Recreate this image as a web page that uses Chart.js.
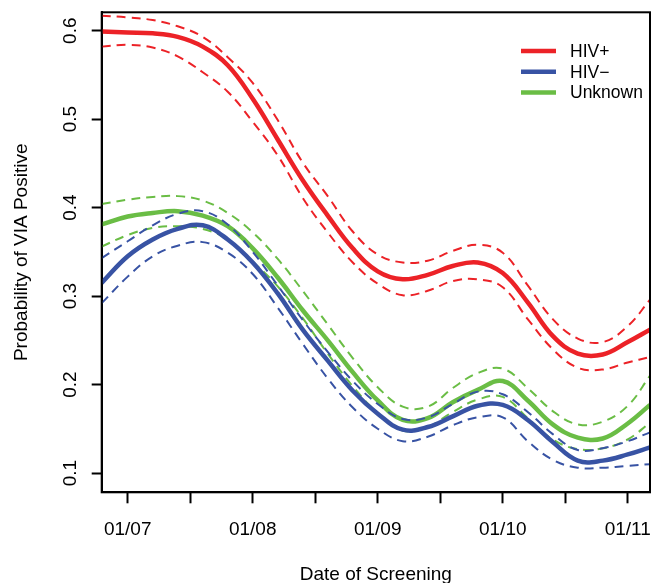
<!DOCTYPE html>
<html>
<head>
<meta charset="utf-8">
<script src="https://cdn.jsdelivr.net/npm/chart.js@4.4.1/dist/chart.umd.min.js"></script>
<style>
  html, body { margin: 0; padding: 0; background: #fff; }
  #wrap { width: 658px; height: 583px; }
</style>
</head>
<body>
<div id="wrap"><canvas id="viaChart" width="658" height="583"></canvas></div>
<script>
// screening date as decimal year
const dates = [2006.792, 2007.0, 2007.2, 2007.4, 2007.6, 2007.8, 2008.0, 2008.2, 2008.4, 2008.6, 2008.8,
               2009.0, 2009.2, 2009.4, 2009.6, 2009.8, 2010.0, 2010.2, 2010.4, 2010.6, 2010.8, 2011.0, 2011.178];

const hivPos   = [0.599, 0.598, 0.597, 0.593, 0.582, 0.561, 0.523, 0.477, 0.431, 0.391, 0.354, 0.328,
                  0.319, 0.324, 0.334, 0.338, 0.326, 0.293, 0.255, 0.235, 0.234, 0.248, 0.262];
const hivPosHi = [0.617, 0.615, 0.612, 0.605, 0.593, 0.570, 0.541, 0.499, 0.451, 0.413, 0.373, 0.347,
                  0.338, 0.340, 0.351, 0.358, 0.349, 0.312, 0.274, 0.252, 0.248, 0.266, 0.296];
const hivPosLo = [0.582, 0.584, 0.581, 0.571, 0.553, 0.531, 0.497, 0.459, 0.411, 0.372, 0.338, 0.314,
                  0.301, 0.306, 0.317, 0.319, 0.310, 0.274, 0.240, 0.219, 0.217, 0.225, 0.231];

const hivNeg   = [0.315, 0.345, 0.364, 0.376, 0.380, 0.364, 0.338, 0.303, 0.262, 0.227, 0.193, 0.167,
                  0.149, 0.152, 0.164, 0.176, 0.177, 0.160, 0.135, 0.114, 0.114, 0.121, 0.129];
const hivNegHi = [0.343, 0.362, 0.380, 0.393, 0.396, 0.381, 0.350, 0.312, 0.273, 0.237, 0.204, 0.178,
                  0.161, 0.163, 0.178, 0.192, 0.189, 0.169, 0.144, 0.126, 0.128, 0.136, 0.146];
const hivNegLo = [0.292, 0.322, 0.345, 0.357, 0.361, 0.349, 0.325, 0.287, 0.246, 0.207, 0.174, 0.150,
                  0.136, 0.141, 0.154, 0.163, 0.163, 0.136, 0.115, 0.106, 0.106, 0.108, 0.110];

const unknown   = [0.381, 0.390, 0.394, 0.396, 0.391, 0.379, 0.354, 0.321, 0.284, 0.250, 0.214, 0.182,
                   0.160, 0.162, 0.180, 0.194, 0.204, 0.182, 0.155, 0.140, 0.139, 0.156, 0.177];
const unknownHi = [0.404, 0.409, 0.412, 0.413, 0.408, 0.394, 0.372, 0.342, 0.306, 0.268, 0.230, 0.197,
                   0.175, 0.175, 0.196, 0.213, 0.218, 0.196, 0.170, 0.155, 0.158, 0.176, 0.210];
const unknownLo = [0.356, 0.369, 0.377, 0.379, 0.376, 0.364, 0.339, 0.311, 0.275, 0.235, 0.198, 0.168,
                   0.148, 0.152, 0.169, 0.183, 0.186, 0.162, 0.138, 0.127, 0.128, 0.138, 0.157];

const yTicks = [0.1, 0.2, 0.3, 0.4, 0.5, 0.6];

const RED = '#EC2227', BLUE = '#3853A4', GREEN = '#6ABD45';
const FONT = '"Liberation Sans", Arial, Helvetica, sans-serif';

function pts(ys) {
    return ys.map((y, i) => ({ x: dates[i], y: y }));
}

function solid(label, ys, color) {
    return { label: label, data: pts(ys), borderColor: color, borderWidth: 4.5,
             pointRadius: 0, tension: 0.4, fill: false };
}

function dashed(ys, color) {
    return { label: '', data: pts(ys), borderColor: color, borderWidth: 2, borderDash: [9, 6],
             pointRadius: 0, tension: 0.4, fill: false };
}

const legendItems = [['HIV+', RED], ['HIV\u2212', BLUE], ['Unknown', GREEN]];

// frame, rotated y labels, axis titles and legend drawn like base R graphics
const rDecor = {
    id: 'rDecor',
    afterDraw(chart) {
        const c = chart.ctx;
        const a = chart.chartArea;
        const ys = chart.scales.y;
        c.save();
        c.strokeStyle = '#000';
        c.lineWidth = 2;
        c.strokeRect(a.left, a.top, a.right - a.left, a.bottom - a.top);

        c.fillStyle = '#000';
        c.font = '19px ' + FONT;
        c.textAlign = 'center';
        c.textBaseline = 'alphabetic';
        yTicks.forEach(v => {
            const py = ys.getPixelForValue(v);
            c.save();
            c.translate(76, py);
            c.rotate(-Math.PI / 2);
            c.fillText(v.toFixed(1), 0, 0);
            c.restore();
        });

        c.save();
        c.translate(27, (a.top + a.bottom) / 2);
        c.rotate(-Math.PI / 2);
        c.fillText('Probability of VIA Positive', 0, 0);
        c.restore();

        c.fillText('Date of Screening', (a.left + a.right) / 2, 580);

        c.font = '17.5px ' + FONT;
        c.textAlign = 'left';
        c.textBaseline = 'middle';
        legendItems.forEach((it, i) => {
            const ly = 51 + i * 20.7;
            c.strokeStyle = it[1];
            c.lineWidth = 4.5;
            c.beginPath();
            c.moveTo(521, ly);
            c.lineTo(556, ly);
            c.stroke();
            c.fillStyle = '#000';
            c.fillText(it[0], 570, ly + 1);
        });
        c.restore();
    }
};

const ctx = document.getElementById('viaChart').getContext('2d');
const viaChart = new Chart(ctx, {
    type: 'line',
    data: {
        datasets: [
            solid('HIV+', hivPos, RED), dashed(hivPosHi, RED), dashed(hivPosLo, RED),
            solid('HIV\u2212', hivNeg, BLUE), dashed(hivNegHi, BLUE), dashed(hivNegLo, BLUE),
            solid('Unknown', unknown, GREEN), dashed(unknownHi, GREEN), dashed(unknownLo, GREEN)
        ]
    },
    options: {
        responsive: false,
        animation: false,
        layout: { padding: { left: 0, top: 12.3, right: 8, bottom: 0 } },
        plugins: { legend: { display: false }, tooltip: { enabled: false } },
        scales: {
            x: {
                type: 'linear',
                min: 2006.792,
                max: 2011.178,
                afterFit: s => { s.height = 90.7; s.paddingLeft = 0; s.paddingRight = 0; },
                border: { display: true, color: '#000', width: 2 },
                grid: { drawOnChartArea: false, drawTicks: true, tickLength: 11, tickWidth: 2, tickColor: '#000' },
                ticks: {
                    stepSize: 0.5,
                    includeBounds: false,
                    autoSkip: false,
                    maxRotation: 0,
                    padding: 15,
                    color: '#000',
                    font: { family: FONT, size: 19 },
                    callback: v => {
                        const r = Math.round(v);
                        if (Math.abs(v - r) > 1e-6) return '';
                        return '01/' + String(r % 100).padStart(2, '0');
                    }
                }
            },
            y: {
                type: 'linear',
                min: 0.0782,
                max: 0.6208,
                afterFit: s => { s.width = 101.7; s.paddingTop = 0; s.paddingBottom = 0; },
                border: { display: true, color: '#000', width: 2 },
                grid: { drawOnChartArea: false, drawTicks: true, tickLength: 10, tickWidth: 2, tickColor: '#000' },
                ticks: {
                    stepSize: 0.1,
                    includeBounds: false,
                    color: 'rgba(0,0,0,0)',
                    font: { family: FONT, size: 19 }
                }
            }
        }
    },
    plugins: [rDecor]
});
</script>
</body>
</html>
